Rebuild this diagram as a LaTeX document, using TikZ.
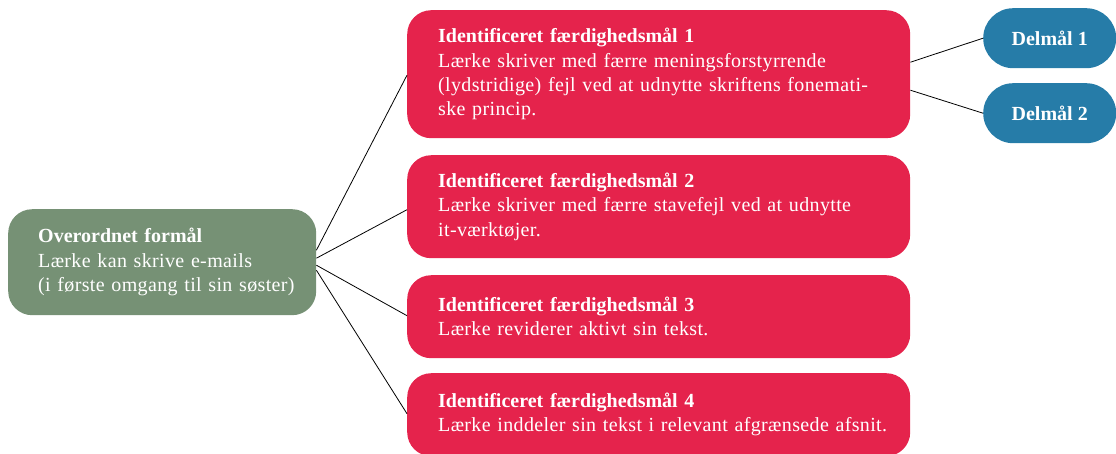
\documentclass[tikz,border=0pt]{standalone}
\usepackage{fontspec}
\setmainfont{Liberation Serif}
\usepackage{tikz}
\usetikzlibrary{calc,positioning}
\definecolor{goalGreen}{RGB}{118,145,117}
\definecolor{goalRed}{RGB}{229,35,76}
\definecolor{goalBlue}{RGB}{38,124,168}
\newcommand\goaltitle[1]{{\normalfont\bfseries #1}}

\tikzset{
  goalfont/.style={font=\fontsize{20}{24.3}\selectfont\addfontfeatures{LetterSpace=1.8}},
  goalbox/.style={goalfont, fill=goalRed, rounded corners=24pt, text=white, align=left,
    anchor=north west, minimum width=503pt, inner xsep=31pt, text width=441pt},
  subbox/.style={fill=goalBlue, rounded corners=30pt, text=white, anchor=north west,
    minimum width=133pt, minimum height=60pt, font=\fontsize{20}{20}\selectfont\bfseries},
  link/.style={black, line width=0.8pt}
}

\begin{document}
\begin{tikzpicture}[x=1pt,y=-1pt]
\useasboundingbox (0,0) rectangle (1116,453);
\node[goalfont, fill=goalGreen, rounded corners=24pt, text=white, align=left, anchor=north west,
  minimum width=308pt, minimum height=106pt, inner xsep=30pt, text width=248pt] (main) at (8,209)
  {\goaltitle{Overordnet formål}\\Lærke kan skrive e-mails\\\mbox{(i første omgang til sin søster)}};
\node[goalbox, minimum height=128pt] (g1) at (407,10)
  {\goaltitle{Identificeret færdighedsmål 1}\\Lærke skriver med færre meningsforstyrrende\\\mbox{(lydstridige) fejl ved at udnytte skriftens fonemati-}\\ske princip.};
\node[goalbox, minimum height=103pt] (g2) at (407,155)
  {\goaltitle{Identificeret færdighedsmål 2}\\Lærke skriver med færre stavefejl ved at udnytte\\it-værktøjer.};
\node[goalbox, minimum height=83pt] (g3) at (407,275)
  {\goaltitle{Identificeret færdighedsmål 3}\\Lærke reviderer aktivt sin tekst.};
\node[goalbox, minimum height=83pt] (g4) at (407,373)
  {\goaltitle{Identificeret færdighedsmål 4}\\\mbox{Lærke inddeler sin tekst i relevant afgrænsede afsnit.}};
\node[subbox] (d1) at (983,8) {Delmål 1};
\node[subbox] (d2) at (983,83) {Delmål 2};
% connectors
\draw[link] ($(main.east)+(0,-12)$) -- ($(g1.west)+(0,1)$);
\draw[link] ($(main.east)+(0,-4)$) -- ($(g2.west)+(0,3)$);
\draw[link] ($(main.east)+(0,3)$) -- ($(g3.west)+(0,-1)$);
\draw[link] ($(main.east)+(0,8)$) -- ($(g4.west)+(0,-1)$);
\draw[link] ($(g1.east)+(0,-12)$) -- (d1.west);
\draw[link] ($(g1.east)+(0,16)$) -- (d2.west);
\end{tikzpicture}
\end{document}
